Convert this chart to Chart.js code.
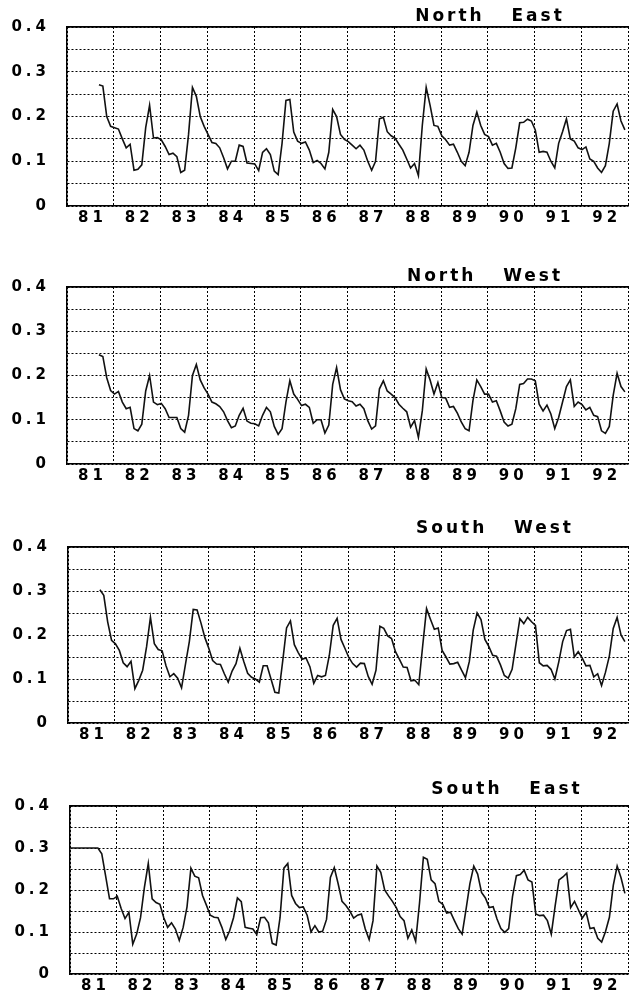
<!DOCTYPE html>
<html>
<head>
<meta charset="utf-8">
<script src="https://cdn.jsdelivr.net/npm/chart.js@4.4.0/dist/chart.umd.min.js"></script>
<style>
  body { margin: 0; background: #fff; width: 631px; height: 1000px; overflow: hidden; position: relative; }
  canvas { position: absolute; left: 0; }
</style>
</head>
<body>
<canvas id="ne" width="631" height="245" style="top:0px"></canvas>
<canvas id="nw" width="631" height="250" style="top:260px"></canvas>
<canvas id="sw" width="631" height="250" style="top:520px"></canvas>
<canvas id="se" width="631" height="221" style="top:779px"></canvas>
<script>
// year labels on the x axis, y labels every 0.1
const yearLabels = ["81", "82", "83", "84", "85", "86", "87", "88", "89", "90", "91", "92"]
const yLabels = ["0", "0.1", "0.2", "0.3", "0.4"]

// monthly values, first entry at month index *Start (0 = Jan 1981)
const northEastStart = 8
const northEast = [
  0.271, 0.268, 0.200, 0.178,
  0.175, 0.172, 0.150, 0.130, 0.138, 0.080, 0.082, 0.092, 0.175, 0.225, 0.152, 0.153,
  0.148, 0.133, 0.115, 0.118, 0.110, 0.075, 0.080, 0.160, 0.265, 0.245, 0.200, 0.178,
  0.160, 0.142, 0.140, 0.130, 0.108, 0.083, 0.100, 0.100, 0.136, 0.133, 0.096, 0.095,
  0.094, 0.079, 0.120, 0.128, 0.115, 0.078, 0.070, 0.140, 0.236, 0.238, 0.165, 0.145,
  0.140, 0.143, 0.125, 0.097, 0.102, 0.095, 0.083, 0.120, 0.216, 0.200, 0.160, 0.149,
  0.144, 0.136, 0.128, 0.136, 0.125, 0.100, 0.080, 0.100, 0.195, 0.198, 0.166, 0.157,
  0.152, 0.138, 0.125, 0.105, 0.085, 0.095, 0.068, 0.180, 0.265, 0.225, 0.180, 0.178,
  0.157, 0.148, 0.136, 0.138, 0.120, 0.100, 0.090, 0.120, 0.180, 0.210, 0.180, 0.160,
  0.155, 0.136, 0.140, 0.120, 0.095, 0.084, 0.085, 0.130, 0.186, 0.187, 0.194, 0.190,
  0.170, 0.120, 0.122, 0.120, 0.100, 0.085, 0.140, 0.166, 0.195, 0.150, 0.145, 0.130,
  0.126, 0.132, 0.105, 0.100, 0.085, 0.075, 0.090, 0.140, 0.212, 0.228, 0.190, 0.170
]

const northWestStart = 8
const northWest = [
  0.247, 0.243, 0.195, 0.166,
  0.158, 0.164, 0.140, 0.125, 0.128, 0.080, 0.075, 0.090, 0.165, 0.200, 0.140, 0.134,
  0.137, 0.125, 0.105, 0.105, 0.105, 0.080, 0.072, 0.110, 0.200, 0.225, 0.190, 0.172,
  0.158, 0.140, 0.136, 0.130, 0.118, 0.098, 0.082, 0.086, 0.110, 0.126, 0.097, 0.092,
  0.091, 0.086, 0.110, 0.128, 0.118, 0.085, 0.067, 0.080, 0.140, 0.188, 0.158, 0.146,
  0.132, 0.135, 0.128, 0.092, 0.100, 0.100, 0.070, 0.088, 0.180, 0.218, 0.168, 0.147,
  0.143, 0.141, 0.131, 0.135, 0.125, 0.098, 0.079, 0.086, 0.170, 0.188, 0.165, 0.158,
  0.150, 0.135, 0.126, 0.118, 0.083, 0.098, 0.060, 0.120, 0.215, 0.190, 0.158, 0.184,
  0.150, 0.149, 0.128, 0.130, 0.115, 0.095, 0.080, 0.075, 0.143, 0.190, 0.175, 0.158,
  0.158, 0.140, 0.143, 0.120, 0.095, 0.086, 0.090, 0.125, 0.180, 0.182, 0.192, 0.192,
  0.188, 0.135, 0.120, 0.133, 0.113, 0.080, 0.105, 0.140, 0.175, 0.190, 0.130, 0.140,
  0.134, 0.122, 0.128, 0.110, 0.107, 0.075, 0.069, 0.085, 0.155, 0.205, 0.175, 0.163
]

const southWestStart = 8
const southWest = [
  0.303, 0.290, 0.230, 0.188,
  0.180, 0.165, 0.137, 0.128, 0.140, 0.078, 0.097, 0.120, 0.173, 0.240, 0.180, 0.167,
  0.164, 0.130, 0.105, 0.112, 0.102, 0.080, 0.133, 0.185, 0.258, 0.257, 0.227, 0.194,
  0.170, 0.142, 0.134, 0.133, 0.112, 0.093, 0.118, 0.135, 0.170, 0.140, 0.113, 0.104,
  0.100, 0.093, 0.130, 0.130, 0.100, 0.070, 0.068, 0.140, 0.216, 0.232, 0.178, 0.160,
  0.145, 0.148, 0.128, 0.090, 0.108, 0.105, 0.108, 0.154, 0.222, 0.238, 0.190, 0.170,
  0.149, 0.135, 0.127, 0.136, 0.135, 0.106, 0.088, 0.120, 0.220, 0.215, 0.198, 0.192,
  0.162, 0.145, 0.127, 0.126, 0.096, 0.097, 0.087, 0.175, 0.260, 0.236, 0.213, 0.216,
  0.165, 0.150, 0.134, 0.135, 0.138, 0.120, 0.103, 0.140, 0.211, 0.250, 0.235, 0.190,
  0.174, 0.154, 0.152, 0.132, 0.108, 0.102, 0.122, 0.180, 0.237, 0.226, 0.240, 0.230,
  0.222, 0.137, 0.130, 0.131, 0.122, 0.100, 0.139, 0.185, 0.210, 0.213, 0.150, 0.162,
  0.148, 0.130, 0.131, 0.105, 0.112, 0.085, 0.115, 0.152, 0.215, 0.240, 0.200, 0.185
]

const southEastStart = 0
const southEast = [
  0.300, 0.300, 0.300, 0.300, 0.300, 0.300, 0.300, 0.300, 0.286, 0.233, 0.179, 0.179,
  0.185, 0.156, 0.132, 0.147, 0.071, 0.095, 0.134, 0.206, 0.263, 0.179, 0.170, 0.166,
  0.134, 0.111, 0.122, 0.107, 0.080, 0.111, 0.160, 0.252, 0.233, 0.229, 0.187, 0.164,
  0.140, 0.135, 0.134, 0.111, 0.082, 0.103, 0.134, 0.181, 0.172, 0.111, 0.109, 0.107,
  0.094, 0.134, 0.135, 0.122, 0.073, 0.069, 0.134, 0.252, 0.263, 0.187, 0.168, 0.158,
  0.160, 0.140, 0.100, 0.115, 0.100, 0.102, 0.130, 0.230, 0.253, 0.215, 0.173, 0.163,
  0.150, 0.133, 0.140, 0.143, 0.107, 0.082, 0.127, 0.257, 0.242, 0.200, 0.186, 0.173,
  0.158, 0.137, 0.127, 0.085, 0.105, 0.078, 0.169, 0.278, 0.273, 0.224, 0.215, 0.173,
  0.166, 0.145, 0.147, 0.127, 0.108, 0.095, 0.154, 0.215, 0.257, 0.238, 0.194, 0.181,
  0.158, 0.160, 0.131, 0.108, 0.099, 0.108, 0.185, 0.234, 0.237, 0.247, 0.224, 0.219,
  0.143, 0.139, 0.140, 0.127, 0.095, 0.162, 0.224, 0.231, 0.240, 0.158, 0.173, 0.153,
  0.133, 0.147, 0.108, 0.110, 0.085, 0.076, 0.101, 0.135, 0.211, 0.257, 0.229, 0.192
]

const toPoints = (vals, start) => vals.map((v, i) => ({ x: 81 + (start + i + 0.2) / 12, y: v }))

const labelFont = { family: "'DejaVu Sans', sans-serif", size: 15, weight: "bold" }
const gridDash = [2, 2]

// wide-set lettering like the original print
const spacing = {
  id: "spacing",
  beforeLayout(chart) { chart.ctx.letterSpacing = "4px" },
  beforeDraw(chart) { chart.ctx.letterSpacing = "4px" }
}

const panelTitle = {
  id: "panelTitle",
  afterDraw(chart, args, opts) {
    const ctx = chart.ctx
    ctx.save()
    ctx.letterSpacing = "3px"
    ctx.font = "bold 17px 'DejaVu Sans', sans-serif"
    ctx.fillStyle = "#000"
    ctx.textAlign = "center"
    ctx.textBaseline = "middle"
    ctx.fillText(opts.text, opts.x, chart.chartArea.top + opts.dy)
    ctx.restore()
  }
}

function panel(id, name, vals, start, geo) {
  const canvas = document.getElementById(id)
  const plotWidth = canvas.width - geo.left - geo.right
  return new Chart(canvas, {
    type: "line",
    data: {
      datasets: [{
        data: toPoints(vals, start),
        borderColor: "#111",
        borderWidth: 1.6,
        pointRadius: 0,
        tension: 0,
        fill: false
      }]
    },
    options: {
      responsive: false,
      animation: false,
      events: [],
      layout: { padding: { top: geo.top, right: geo.right, left: 0, bottom: 0 } },
      plugins: {
        legend: { display: false },
        tooltip: { enabled: false },
        panelTitle: { text: name, x: geo.tx, dy: geo.ty }
      },
      scales: {
        x: {
          type: "linear",
          min: 81,
          max: 93,
          ticks: {
            stepSize: 1,
            autoSkip: false,
            maxRotation: 0,
            padding: 3,
            labelOffset: plotWidth / 24 + 2,
            color: "#000",
            font: labelFont,
            callback: v => yearLabels[v - 81] || ""
          },
          grid: { drawTicks: false, lineWidth: 1, color: "#000" },
          border: { display: true, color: "#000", width: 1.5, dash: gridDash },
          afterFit: s => { s.height = canvas.height - geo.top - geo.h }
        },
        y: {
          min: 0,
          max: 0.4,
          ticks: {
            stepSize: 0.05,
            padding: 17,
            color: "#000",
            font: labelFont,
            callback: v => {
              const t = Math.round(v * 100)
              return t % 10 === 0 ? yLabels[t / 10] : ""
            }
          },
          grid: { drawTicks: false, lineWidth: 1, color: "#000" },
          border: { display: true, color: "#000", width: 1.5, dash: gridDash },
          afterFit: s => { s.width = geo.left }
        },
        top: {
          type: "linear",
          position: "top",
          ticks: { display: false },
          grid: { display: false },
          border: { display: true, color: "#000", width: 1.8 },
          afterFit: s => { s.height = 0 }
        }
      }
    },
    plugins: [spacing, panelTitle]
  })
}

panel("ne", "North   East", northEast, northEastStart, { top: 27, h: 179, left: 67, right: 0, tx: 490, ty: -10 })
panel("nw", "North   West", northWest, northWestStart, { top: 27, h: 177, left: 67, right: 0, tx: 485, ty: -10 })
panel("sw", "South   West", southWest, southWestStart, { top: 27, h: 176, left: 68, right: -1, tx: 495, ty: -18 })
panel("se", "South   East", southEast, southEastStart, { top: 27, h: 174, left: 70, right: -3, tx: 507, ty: -16 })
</script>
</body>
</html>
